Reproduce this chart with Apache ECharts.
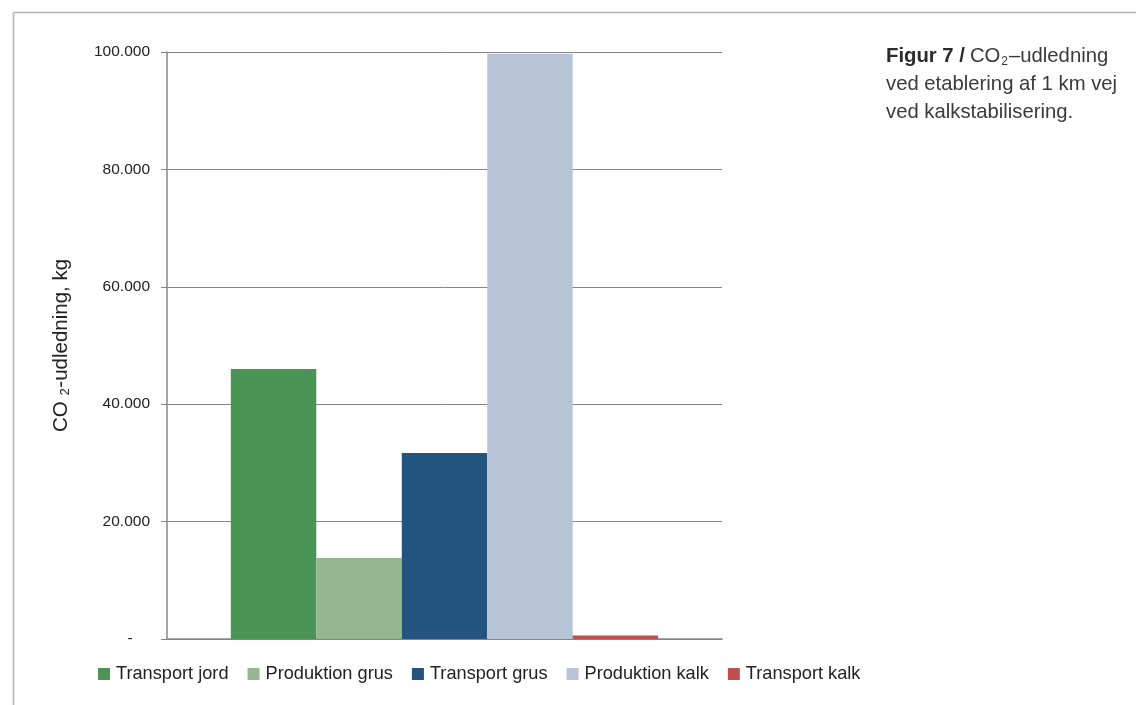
<!DOCTYPE html>
<html>
<head>
<meta charset="utf-8">
<script src="https://cdn.jsdelivr.net/npm/echarts@6/dist/echarts.min.js"></script>
<style>
html,body{margin:0;padding:0;background:#fff;}
#c{width:1136px;height:705px;}
</style>
</head>
<body>
<div id="c"></div>
<script>
const categories = [''];
const seriesNames = ['Transport jord', 'Produktion grus', 'Transport grus', 'Produktion kalk', 'Transport kalk'];
const seriesValues = [46000, 13800, 31700, 99700, 600];
const seriesColors = ['#4A9455', '#96B68F', '#23547F', '#B7C4D8', '#C0504D'];
const yTicks = [0, 20000, 40000, 60000, 80000, 100000];

const chart = echarts.init(document.getElementById('c'));

function fmt(v) {
  if (v === 0) return '-    ';
  return String(v).replace(/\B(?=(\d{3})+(?!\d))/g, '.');
}

const FONT = 'Liberation Sans';

const option = {
  backgroundColor: '#fff',
  animation: false,
  title: {
    left: 886,
    top: 42,
    padding: 0,
    text: '{b|Figur 7 /} {n|CO}{s|2}{n|–udledning}\n{n|ved etablering af 1 km vej}\n{n|ved kalkstabilisering.}',
    textStyle: {
      fontWeight: 'normal',
      rich: {
        b: {fontFamily: FONT, fontWeight: 'bold', fontSize: 20.3, color: '#2b2b2b', lineHeight: 28},
        n: {fontFamily: FONT, fontWeight: 'normal', fontSize: 20.3, color: '#3a3a3a', lineHeight: 28},
        s: {fontFamily: FONT, fontWeight: 'normal', fontSize: 12, color: '#3a3a3a', lineHeight: 28, padding: [12, 1, 0, 1]}
      }
    }
  },
  legend: {
    left: 98,
    top: 665,
    padding: 0,
    itemWidth: 12,
    itemHeight: 12,
    itemGap: 19,
    icon: 'rect',
    textStyle: {fontFamily: FONT, fontSize: 18.2, color: '#222', padding: [0, 0, 0, 1]},
    data: seriesNames
  },
  grid: {left: 167, right: 414, top: 52, bottom: 66},
  xAxis: {
    type: 'category',
    data: categories,
    axisLine: {lineStyle: {color: '#868686', width: 1.5}},
    axisTick: {show: false},
    axisLabel: {show: false}
  },
  yAxis: {
    type: 'value',
    min: 0,
    max: 100000,
    interval: 20000,
    name: 'CO ₂-udledning, kg',
    nameLocation: 'middle',
    nameGap: 95,
    nameRotate: 90,
    nameTextStyle: {fontFamily: FONT, fontSize: 20.5, color: '#222'},
    axisLine: {show: true, lineStyle: {color: '#868686', width: 1.5}},
    axisTick: {show: true, length: 6, lineStyle: {color: '#868686'}},
    splitLine: {lineStyle: {color: '#868686', width: 1}},
    axisLabel: {
      margin: 17,
      fontFamily: FONT,
      fontSize: 15.5,
      color: '#222',
      formatter: fmt
    }
  },
  graphic: [
    {type: 'line', shape: {x1: 13.5, y1: 12.5, x2: 1136, y2: 12.5}, style: {stroke: '#b4b4b4', lineWidth: 1.5}},
    {type: 'line', shape: {x1: 13.5, y1: 12.5, x2: 13.5, y2: 705}, style: {stroke: '#b4b4b4', lineWidth: 1.5}}
  ],
  series: seriesNames.map((n, i) => ({
    name: n,
    type: 'bar',
    barGap: 0,
    barCategoryGap: '23%',
    itemStyle: {color: seriesColors[i]},
    data: [seriesValues[i]]
  }))
};
chart.setOption(option);
</script>
</body>
</html>
